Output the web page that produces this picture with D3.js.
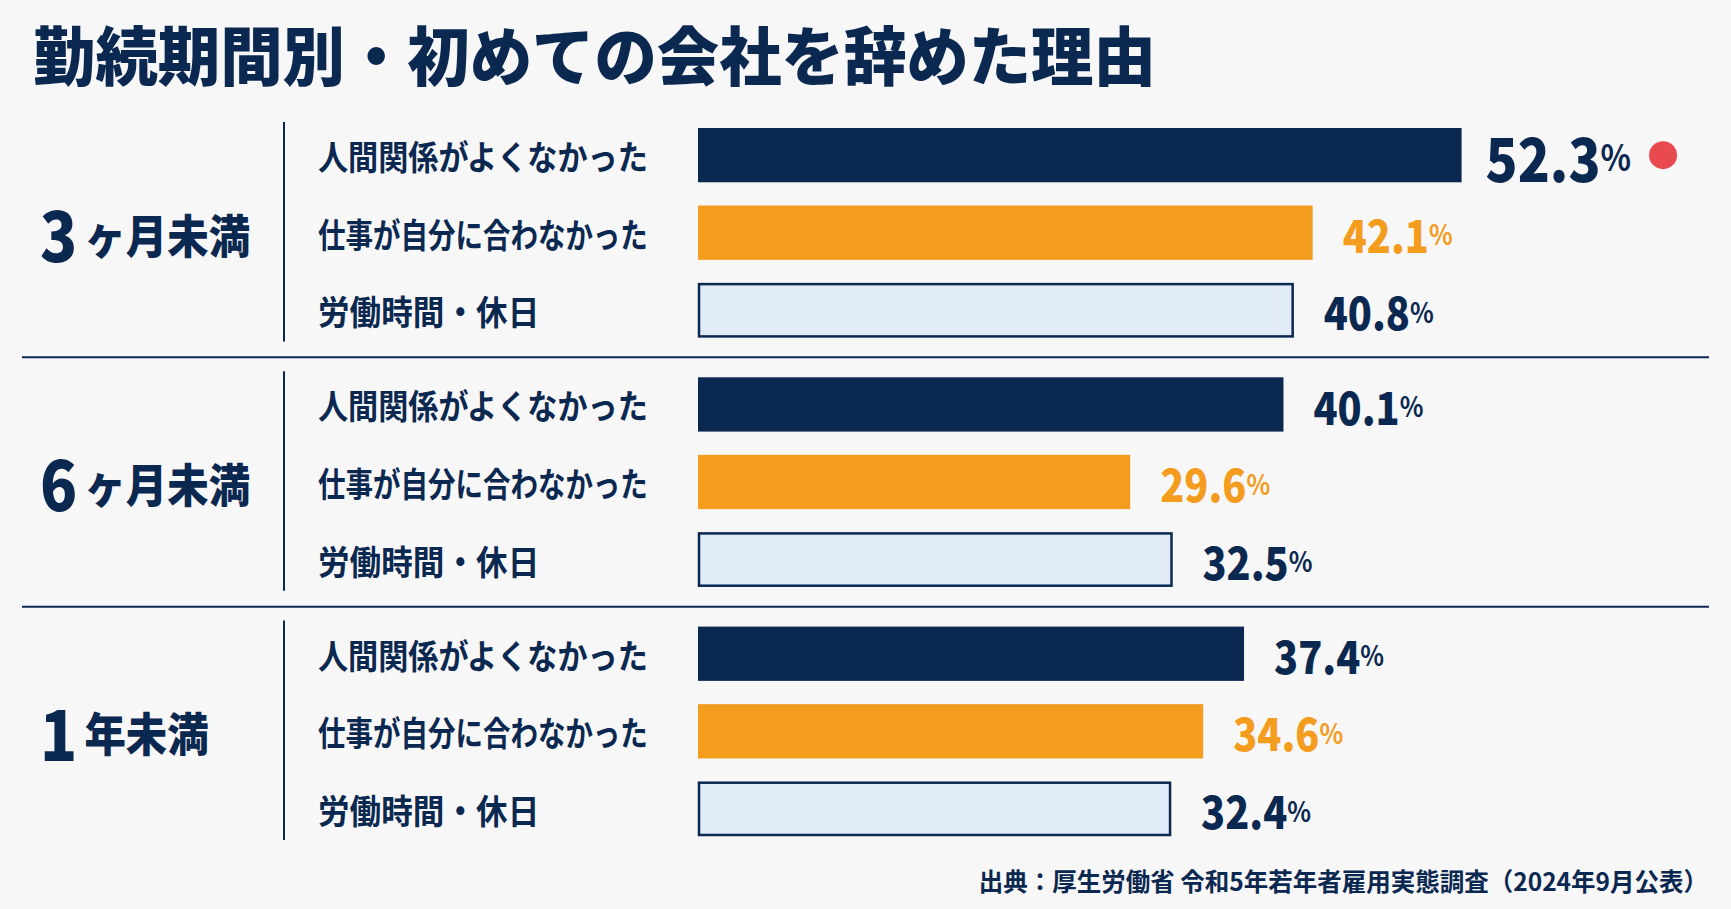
<!DOCTYPE html>
<html>
<head>
<meta charset="utf-8">
<script src="https://cdn.jsdelivr.net/npm/d3@7"></script>
<style>
  html, body { margin: 0; padding: 0; background: #f7f7f7; }
  text { font-family: "Noto Sans CJK JP", "Noto Sans", sans-serif; }
</style>
</head>
<body>
<div id="chart"></div>
<script>
// data
const groups = ["3ヶ月未満", "6ヶ月未満", "1年未満"];
const reasons = ["人間関係がよくなかった", "仕事が自分に合わなかった", "労働時間・休日"];
const relationValues = [52.3, 40.1, 37.4];
const fitValues = [42.1, 29.6, 34.6];
const hoursValues = [40.8, 32.5, 32.4];
const titleText = "勤続期間別・初めての会社を辞めた理由";
const sourceText = "出典：厚生労働省 令和5年若年者雇用実態調査（2024年9月公表）";

const seriesValues = [relationValues, fitValues, hoursValues];

// dimensions
const width = 1731;
const height = 909;
const navy = "#0b2850";
const orange = "#f39c1e";
const light = "#e1ebf7";

const svg = d3.select("#chart")
  .append("svg")
  .attr("width", width)
  .attr("height", height)
  .style("background", "#f7f7f7");

// scales
const x = d3.scaleLinear()
  .domain([0, 60])
  .range([698, 1574]);

const yGroup = d3.scaleBand()
  .domain(groups)
  .range([128, 836])
  .paddingInner(0.16);

const yRow = d3.scaleBand()
  .domain(reasons)
  .range([0, yGroup.bandwidth()])
  .paddingInner(0.3);

const barFill = d3.scaleOrdinal().domain(reasons).range([navy, orange, light]);
const labelFill = d3.scaleOrdinal().domain(reasons).range([navy, orange, navy]);

const maxValue = d3.max(seriesValues.flat());

// title
svg.append("text")
  .attr("transform", "translate(33, 52) scale(0.975, 1)")
  .attr("dominant-baseline", "central")
  .style("font-size", "64px")
  .style("font-weight", 900)
  .style("fill", navy)
  .text(titleText);

// separators between groups
groups.slice(1).forEach((g, i) => {
  const prevEnd = yGroup(groups[i]) + yGroup.bandwidth();
  const yy = (prevEnd + yGroup(g)) / 2;
  svg.append("line")
    .attr("x1", 22).attr("x2", 1709)
    .attr("y1", yy).attr("y2", yy)
    .attr("stroke", navy)
    .attr("stroke-width", 2);
});

groups.forEach((group, gi) => {
  const g = svg.append("g")
    .attr("transform", `translate(0, ${yGroup(group)})`);

  // vertical divider
  g.append("line")
    .attr("x1", 284).attr("x2", 284)
    .attr("y1", -6).attr("y2", yGroup.bandwidth() + 4)
    .attr("stroke", navy)
    .attr("stroke-width", 2);

  // group label: leading number larger
  const m = group.match(/^(\d+)(.*)$/);
  const gl = g.append("text")
    .attr("transform", `translate(40, ${yGroup.bandwidth() / 2}) scale(0.9, 1)`)
    .attr("dominant-baseline", "central")
    .style("font-weight", 900)
    .style("fill", navy);
  gl.append("tspan").style("font-size", "68px").text(m[1]);
  gl.append("tspan").attr("dx", 8).style("font-size", "46px").text(m[2]);

  reasons.forEach((reason, ri) => {
    const v = seriesValues[ri][gi];
    const yy = yRow(reason);
    const bh = yRow.bandwidth();

    // category label, squeezed so the long ones end at the same place
    const cl = g.append("text")
      .attr("dominant-baseline", "central")
      .style("font-size", "34px")
      .style("font-weight", 700)
      .style("fill", navy)
      .text(reason);
    const natural = cl.node().getComputedTextLength();
    const sx = Math.min(0.93, 330 / natural);
    cl.attr("transform", `translate(318, ${yy + bh / 2}) scale(${sx}, 1)`);

    // bar
    const isOutline = ri === 2;
    g.append("rect")
      .attr("x", x(0) + (isOutline ? 1 : 0))
      .attr("y", yy + (isOutline ? 1 : 0))
      .attr("width", x(v) - x(0) - (isOutline ? 2 : 0))
      .attr("height", bh - (isOutline ? 2 : 0))
      .attr("fill", barFill(reason))
      .attr("stroke", isOutline ? navy : "none")
      .attr("stroke-width", isOutline ? 2.5 : 0);

    // value label
    const big = v === maxValue;
    const vl = g.append("text")
      .attr("transform", `translate(${x(v) + (big ? 24 : 30)}, ${yy + bh / 2}) scale(0.88, 1)`)
      .attr("dominant-baseline", "central")
      .style("font-weight", 900)
      .style("fill", labelFill(reason));
    vl.append("tspan").style("font-size", big ? "60px" : "45px").text(v.toFixed(1));
    vl.append("tspan").style("font-size", big ? "36px" : "28px").style("font-weight", 700).text("%");

    if (big) {
      const w = vl.node().getBBox().width * 0.88;
      g.append("circle")
        .attr("cx", x(v) + 24 + w + 32)
        .attr("cy", yy + bh / 2)
        .attr("r", 14)
        .attr("fill", "#e84a50");
    }
  });
});

// source
svg.append("text")
  .attr("transform", "translate(1708, 880) scale(0.98, 1)")
  .attr("text-anchor", "end")
  .attr("dominant-baseline", "central")
  .style("font-size", "25px")
  .style("font-weight", 700)
  .style("fill", navy)
  .text(sourceText);
</script>
</body>
</html>
